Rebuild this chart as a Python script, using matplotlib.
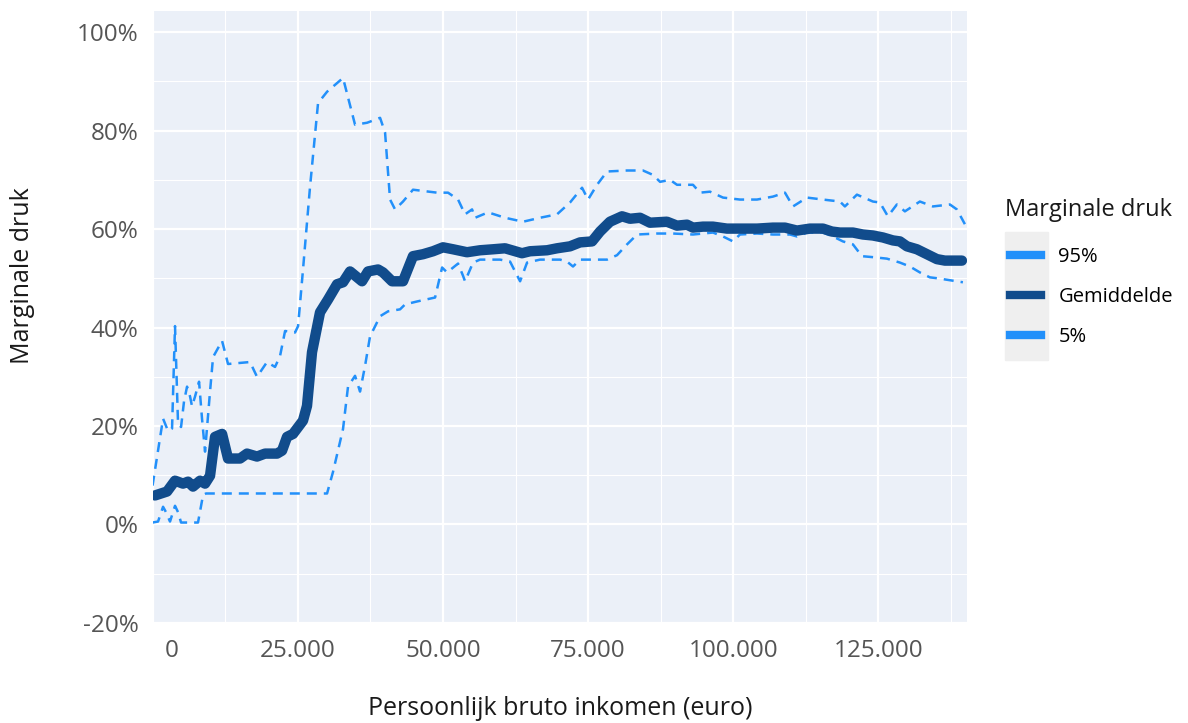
import matplotlib.pyplot as plt
import matplotlib.transforms as mtransforms
from matplotlib.lines import Line2D
from matplotlib.patches import Rectangle
from matplotlib.ticker import FuncFormatter

plt.rcParams['font.family'] = ['Open Sans', 'DejaVu Sans']

# inkomen in duizenden euro, druk in procenten
gem_x = [0.43, 2.50, 3.87, 5.25, 6.11, 6.97, 8.18, 9.04, 9.90, 10.76, 11.97, 13.00,
         15.07, 16.27, 17.99, 19.37, 21.44, 22.30, 23.16, 24.19, 25.91, 26.60, 27.46,
         28.84, 30.22, 31.77, 32.80, 34.01, 36.07, 37.10, 38.83, 39.69, 41.24, 43.13,
         44.85, 46.58, 48.30, 50.02, 51.74, 54.15, 56.39, 58.63, 60.70, 63.62, 65.00,
         67.93, 69.65, 71.89, 73.61, 75.68, 77.05, 78.77, 80.84, 82.22, 83.94, 85.66,
         88.58, 90.31, 92.03, 93.06, 94.78, 96.50, 98.91, 101.15, 104.08, 106.83,
         108.90, 110.96, 113.20, 115.44, 116.99, 118.36, 120.60, 122.32, 124.04,
         125.76, 127.49, 128.69, 129.90, 131.62, 133.34, 135.06, 136.44, 139.37]
gem_y = [5.9, 6.7, 8.9, 8.3, 8.7, 7.7, 8.9, 8.3, 9.9, 17.8, 18.4, 13.4,
         13.4, 14.4, 13.8, 14.4, 14.4, 15.0, 17.8, 18.4, 21.1, 24.1, 35.0,
         43.1, 45.7, 48.8, 49.2, 51.4, 49.4, 51.4, 51.8, 51.2, 49.4, 49.4,
         54.5, 54.9, 55.5, 56.3, 55.9, 55.3, 55.7, 55.9, 56.1, 55.1, 55.5,
         55.7, 56.1, 56.5, 57.3, 57.5, 59.5, 61.5, 62.6, 62.1, 62.3, 61.3,
         61.5, 60.7, 60.9, 60.3, 60.5, 60.5, 60.1, 60.1, 60.1, 60.3,
         60.3, 59.7, 60.1, 60.1, 59.5, 59.3, 59.3, 58.9, 58.7,
         58.3, 57.7, 57.5, 56.5, 55.9, 54.9, 53.9, 53.6, 53.6]

p95_x = [0.0, 1.81, 2.67, 3.36, 3.87, 4.39, 4.91, 5.42, 5.94, 6.46, 6.80, 7.32, 8.01,
         8.52, 9.04, 9.90, 10.42, 11.97, 13.00, 16.79, 17.99, 19.71, 21.09, 21.95,
         22.82, 24.54, 25.06, 25.91, 27.12, 28.50, 30.05, 32.80, 34.87, 36.94, 39.18,
         40.04, 40.90, 41.76, 43.13, 44.85, 48.99, 50.88, 52.61, 53.81, 55.02, 55.54,
         57.78, 60.70, 63.80, 66.72, 69.65, 71.89, 73.96, 74.99, 76.54, 78.26, 81.71,
         84.46, 86.18, 87.39, 89.11, 90.31, 93.06, 94.27, 95.99, 98.23, 101.15, 104.08,
         106.83, 108.90, 110.28, 112.69, 115.44, 118.36, 119.22, 121.29, 124.04,
         125.25, 126.62, 128.17, 129.55, 132.13, 134.37, 137.30, 138.50, 139.88]
p95_y = [7.9, 21.5, 19.0, 19.5, 40.3, 20.5, 19.8, 25.0, 28.0, 26.0, 24.0, 26.0, 29.0,
         21.5, 14.8, 27.0, 34.0, 37.3, 32.6, 33.0, 30.0, 33.0, 32.0, 34.2,
         39.3, 39.0, 40.3, 51.8, 68.6, 85.6, 87.9, 90.7, 81.2, 81.6, 82.6,
         79.6, 66.0, 64.0, 65.6, 68.0, 67.4, 67.4, 66.0, 63.0, 64.0, 62.3,
         63.4, 62.3, 61.5, 62.3, 63.0, 65.4, 68.4, 66.0, 69.0, 71.7, 71.9,
         71.9, 71.0, 69.6, 70.0, 69.0, 69.0, 67.4, 67.6, 66.4, 66.0, 66.0,
         66.6, 67.4, 64.6, 66.4, 66.0, 65.6, 64.6, 67.0, 65.6,
         65.4, 62.6, 65.0, 63.6, 65.6, 64.6, 65.0, 64.0, 61.0]

p5_x = [0.0, 0.95, 1.81, 2.32, 3.01, 3.87, 4.39, 4.91, 7.83, 8.70, 9.21, 30.05, 31.08,
        32.80, 33.66, 34.87, 35.73, 36.59, 37.45, 39.18, 40.56, 42.62, 43.48, 45.55,
        48.65, 49.86, 50.72, 52.61, 53.47, 53.81, 55.19, 56.39, 59.84, 61.56, 63.29,
        64.49, 66.72, 70.17, 71.37, 72.40, 73.61, 78.26, 79.98, 81.71, 83.43, 86.87,
        89.63, 93.06, 96.50, 98.23, 99.95, 101.15, 104.08, 106.83, 109.76, 110.96,
        112.69, 115.44, 117.16, 118.88, 120.60, 122.15, 124.04, 126.45, 128.69,
        130.41, 132.13, 133.85, 135.23, 139.54]
p5_y = [0.4, 0.6, 3.6, 2.5, 0.6, 3.8, 2.5, 0.4, 0.4, 6.0, 6.3, 6.3, 10.7,
        19.4, 28.0, 30.2, 27.0, 32.2, 38.2, 42.3, 43.3, 43.7, 44.7, 45.3,
        46.1, 52.2, 51.2, 53.0, 50.5, 49.4, 53.2, 53.8, 53.8, 53.4, 49.4,
        53.2, 53.8, 53.8, 53.4, 52.4, 53.8, 53.8, 54.7, 56.9, 58.9, 59.1,
        59.1, 58.9, 59.3, 58.5, 57.5, 58.9, 59.1, 58.9, 58.9, 58.5,
        59.3, 59.3, 58.5, 57.5, 56.9, 54.5, 54.3, 54.0, 53.2,
        52.4, 51.2, 50.2, 50.0, 49.2]

licht = '#2290FA'
donker = '#114C8C'

fig = plt.figure(figsize=(11.88, 7.23), dpi=100)
ax = fig.add_axes([0.1284, 0.137, 0.6856, 0.8478])
ax.set_facecolor('#EBF0F8')

ax.plot([v * 1000 for v in p95_x], p95_y, color=licht, lw=1.8, ls=(0, (4, 2.8)))
ax.plot([v * 1000 for v in p5_x], p5_y, color=licht, lw=1.8, ls=(0, (4, 2.8)))
ax.plot([v * 1000 for v in gem_x], gem_y, color=donker, lw=7.5,
        solid_capstyle='round', solid_joinstyle='round')

ax.set_xlim(0, 140250)
ax.set_ylim(-20.2, 104.3)
ax.set_xticks([0, 25000, 50000, 75000, 100000, 125000])
ax.set_xticks([12500, 37500, 62500, 87500, 112500, 137500], minor=True)
ax.set_yticks([-20, 0, 20, 40, 60, 80, 100])
ax.set_yticks([-10, 10, 30, 50, 70, 90], minor=True)
ax.xaxis.set_major_formatter(FuncFormatter(lambda v, p: f'{int(v):,}'.replace(',', '.')))
ax.yaxis.set_major_formatter(FuncFormatter(lambda v, p: f'{int(v)}%'))

ax.grid(which='major', color='white', lw=1.6)
ax.grid(which='minor', color='white', lw=0.8)
ax.set_axisbelow(True)
for s in ax.spines.values():
    s.set_visible(False)
ax.tick_params(which='both', length=0)
ax.tick_params(axis='x', labelsize=17.5, labelcolor='#555555', pad=11)
ax.tick_params(axis='y', labelsize=17.5, labelcolor='#555555', pad=10)

# eerste label iets naar rechts zoals in het origineel
lbl0 = ax.get_xticklabels()[0]
lbl0.set_transform(lbl0.get_transform() + mtransforms.ScaledTranslation(0.19, 0, fig.dpi_scale_trans))

ax.set_xlabel('Persoonlijk bruto inkomen (euro)', fontsize=18, color='#1a1a1a')
ax.set_ylabel('Marginale druk', fontsize=18, color='#1a1a1a')
ax.xaxis.set_label_coords(0.5, -0.117)
ax.yaxis.set_label_coords(-0.144, 0.568)

# legenda
fig.text(1005 / 1188, 1 - 210 / 723, 'Marginale druk', fontsize=17, color='#1a1a1a',
         ha='left', va='center')
fig.patches.append(Rectangle((1005 / 1188, 1 - 360 / 723), 43 / 1188, 128 / 723,
                             transform=fig.transFigure, color='#EFEFEF', zorder=0))
handles = [Line2D([], [], color=licht, lw=6),
           Line2D([], [], color=donker, lw=6),
           Line2D([], [], color=licht, lw=6)]
leg = fig.legend(handles, ['95%', 'Gemiddelde', '5%'],
                 loc='upper left', bbox_to_anchor=(1010 / 1188, 1 - 247 / 723),
                 frameon=False, fontsize=14.5, handlelength=1.55, borderpad=0,
                 borderaxespad=0, labelspacing=1.0, handletextpad=0.85)

fig.savefig('out.png', dpi=100)
